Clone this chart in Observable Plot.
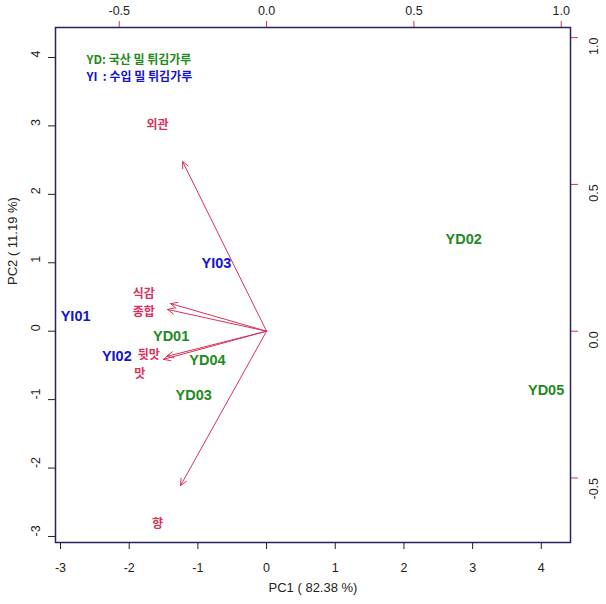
<!DOCTYPE html>
<html>
<head>
<meta charset="utf-8">
<script src="https://cdn.jsdelivr.net/npm/d3@7"></script>
<script src="https://cdn.jsdelivr.net/npm/@observablehq/plot@0.6"></script>
<style>
  html, body { margin: 0; padding: 0; background: #fff; }
  svg text { white-space: pre; }
</style>
</head>
<body>
<div id="chart"></div>
<script>
// ---- data ----
const pc1Ticks = [-3, -2, -1, 0, 1, 2, 3, 4];
const pc2Ticks = [-3, -2, -1, 0, 1, 2, 3, 4];
const loadingTicks = [-0.5, 0.0, 0.5, 1.0];
const loadingTickLabels = ["-0.5", "0.0", "0.5", "1.0"];
const scaleRatio = 4.29; // primary units per loading unit

const sampleNames = ["YI01", "YI02", "YI03", "YD01", "YD02", "YD03", "YD04", "YD05"];
const samplePC1 = [-2.78, -2.18, -0.73, -1.39, 2.87, -1.06, -0.86, 4.07];
const samplePC2 = [0.215, -0.37, 0.99, -0.078, 1.34, -0.94, -0.42, -0.87];

const varNames = ["외관", "향", "식감", "종합", "뒷맛", "맛"];
const arrowPC1 = [-0.285, -0.292, -0.326, -0.336, -0.339, -0.350];
const arrowPC2 = [0.578, -0.526, 0.094, 0.074, -0.086, -0.096];
const labelPC1 = [-0.37, -0.37, -0.417, -0.417, -0.40, -0.43];
const labelPC2 = [0.703, -0.658, 0.125, 0.064, -0.083, -0.146];

const legendLines = ["YD: 국산 밀 튀김가루", "YI  : 수입 밀 튀김가루"];
const legendGroups = ["YD", "YI"];

const xTitle = "PC1 ( 82.38 %)";
const yTitle = "PC2 ( 11.19 %)";

// ---- build ----
const groupColor = {YD: "#1f8a22", YI: "#1414c8"};
const red = "#d8315b";
const samples = sampleNames.map((n, i) => ({name: n, x: samplePC1[i], y: samplePC2[i], g: n.slice(0, 2)}));
const vars = varNames.map((n, i) => ({
  name: n,
  x2: arrowPC1[i] * scaleRatio, y2: arrowPC2[i] * scaleRatio,
  lx: labelPC1[i] * scaleRatio, ly: labelPC2[i] * scaleRatio
}));
const lt = loadingTicks.map((v, i) => ({v: v * scaleRatio, label: loadingTickLabels[i]}));

const font = "'Liberation Sans', Arial, sans-serif";
const kfont = "'Noto Sans CJK KR', 'Liberation Sans', sans-serif";

const legendMarks = legendLines.map((t, i) =>
  Plot.text([t], {frameAnchor: "top-left", dx: 31, dy: 28 + i * 17, text: d => d,
    fill: groupColor[legendGroups[i]], fontFamily: kfont, fontWeight: "bold", fontSize: 12, textAnchor: "start"})
);

const chart = Plot.plot({
  width: 606,
  height: 604,
  marginLeft: 55,
  marginRight: 36,
  marginTop: 27,
  marginBottom: 62,
  style: {fontFamily: font, fontSize: "12px", color: "#222", background: "#fff"},
  x: {domain: [-3.073, 4.425]},
  y: {domain: [-3.088, 4.438]},
  marks: [
    // bottom axis
    Plot.axisX({anchor: "bottom", ticks: pc1Ticks, tickSize: 7, tickPadding: 14, tickFormat: d => String(d), label: null, fontSize: 12.5, stroke: "#222"}),
    Plot.text([xTitle], {frameAnchor: "bottom", dy: 49, text: d => d, fontSize: 13, fill: "#222"}),
    // left axis
    Plot.axisY({anchor: "left", ticks: pc2Ticks, tickSize: 7, tickFormat: () => "", label: null, stroke: "#222"}),
    Plot.text(pc2Ticks, {y: d => d, frameAnchor: "left", dx: -20, rotate: -90, text: d => String(d), fontSize: 12.5, fill: "#222"}),
    Plot.text([yTitle], {frameAnchor: "left", dx: -43, rotate: -90, text: d => d, fontSize: 13, fill: "#222"}),
    // top secondary axis
    Plot.axisX({anchor: "top", ticks: lt.map(d => d.v), tickSize: 7, tickPadding: 6, tickFormat: (d, i) => lt[i].label, label: null, stroke: red, fill: "#222", fontSize: 12.5}),
    // right secondary axis
    Plot.axisY({anchor: "right", ticks: lt.map(d => d.v), tickSize: 7, tickFormat: () => "", label: null, stroke: red}),
    Plot.text(lt, {y: "v", frameAnchor: "right", dx: 23, rotate: -90, text: "label", fontSize: 12.5, fill: "#222"}),
    // arrows
    Plot.arrow(vars, {x1: () => 0, y1: () => 0, x2: "x2", y2: "y2", stroke: red, strokeWidth: 1, headLength: 11, headAngle: 50}),
    Plot.text(vars, {x: "lx", y: "ly", text: "name", fill: red, fontFamily: kfont, fontWeight: "bold", fontSize: 12}),
    // samples
    Plot.text(samples, {x: "x", y: "y", text: "name", fill: d => groupColor[d.g], fontWeight: "bold", fontSize: 14.5}),
    // legend
    ...legendMarks,
    Plot.frame({stroke: "#2a1f60", strokeWidth: 1.5})
  ]
});
document.getElementById("chart").appendChild(chart);
</script>
</body>
</html>
